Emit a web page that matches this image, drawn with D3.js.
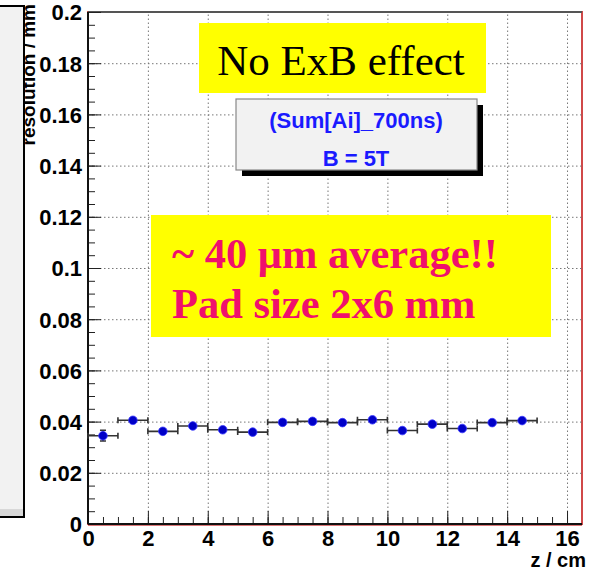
<!DOCTYPE html>
<html>
<head>
<meta charset="utf-8">
<script src="https://cdn.jsdelivr.net/npm/d3@7"></script>
<style>
  html, body { margin: 0; padding: 0; background: #fff; }
  svg { display: block; }
  .tick text { font-family: "Liberation Sans", Arial, sans-serif; font-weight: bold; font-size: 22px; fill: #000; }
</style>
</head>
<body>
<div id="chart"></div>
<script>
// z bins (cm) and measured resolution (mm)
const zCenters = [0.5, 1.5, 2.5, 3.5, 4.5, 5.5, 6.5, 7.5, 8.5, 9.5, 10.5, 11.5, 12.5, 13.5, 14.5];
const resolution = [0.0345, 0.0405, 0.0362, 0.0383, 0.0368, 0.0359, 0.0397, 0.0401, 0.0396, 0.0407, 0.0365, 0.0390, 0.0373, 0.0396, 0.0404];
const resErr = [0.0021, 0.0004, 0.0004, 0.0004, 0.0004, 0.0004, 0.0004, 0.0004, 0.0004, 0.0004, 0.0004, 0.0004, 0.0004, 0.0004, 0.0004];
const binHalf = 0.5;
const xTicks = [0, 2, 4, 6, 8, 10, 12, 14, 16];
const yTicks = [0, 0.02, 0.04, 0.06, 0.08, 0.1, 0.12, 0.14, 0.16, 0.18, 0.2];
const yTickLabels = ["0", "0.02", "0.04", "0.06", "0.08", "0.1", "0.12", "0.14", "0.16", "0.18", "0.2"];
const statsLines = ["(Sum[Ai]_700ns)", "B = 5T"];
const noteLines = ["~ 40 \u03bcm average!!", "Pad size 2x6 mm"];

const W = 593, H = 573;
const svg = d3.select("#chart").append("svg").attr("width", W).attr("height", H);

const x = d3.scaleLinear().domain([0, 16.5]).range([88, 582]);
const y = d3.scaleLinear().domain([0, 0.2]).range([524, 12]);
const [x0, x1] = x.range(), [y0, y1] = y.range();

// y title, half hidden behind the neighbouring pad
svg.append("text")
  .attr("transform", "translate(35,4) rotate(-90)")
  .attr("text-anchor", "end")
  .attr("font-family", "Liberation Sans, Arial, sans-serif")
  .attr("font-weight", "bold").attr("font-size", 19)
  .text("resolution / mm");

// neighbouring pad (left)
const pad = svg.append("g");
pad.append("rect").attr("x", -2).attr("y", 6).attr("width", 26).attr("height", 511)
  .attr("fill", "#f2f2f2").attr("stroke", "#000").attr("stroke-width", 2);
pad.append("rect").attr("x", 0).attr("y", 509).attr("width", 23).attr("height", 7).attr("fill", "#d8d8d8");

// frame
svg.append("rect").attr("x", x0).attr("y", y1).attr("width", x1 - x0).attr("height", y0 - y1)
  .attr("fill", "#fff").attr("stroke", "#d04848").attr("stroke-width", 2);

// grid
svg.append("g").attr("transform", `translate(0,${y0})`)
  .call(d3.axisBottom(x).tickValues(xTicks.filter(d => d > 0)).tickSize(-(y0 - y1)).tickFormat(""))
  .call(g => g.select(".domain").remove())
  .selectAll("line").attr("stroke", "#777").attr("stroke-dasharray", "1.5,2.5");
svg.append("g").attr("transform", `translate(${x0},0)`)
  .call(d3.axisLeft(y).tickValues(yTicks.filter(d => d > 0 && d < 0.2)).tickSize(-(x1 - x0)).tickFormat(""))
  .call(g => g.select(".domain").remove())
  .selectAll("line").attr("stroke", "#777").attr("stroke-dasharray", "1.5,2.5");

// top frame edge
svg.append("line").attr("x1", x0).attr("x2", x1).attr("y1", y1).attr("y2", y1)
  .attr("stroke", "#555").attr("stroke-width", 2);

// minor ticks
svg.append("g").attr("transform", `translate(0,${y0})`)
  .call(d3.axisBottom(x).tickValues(d3.range(0, 16.5, 0.5)).tickSize(-7).tickFormat(""))
  .call(g => g.select(".domain").remove())
  .selectAll("line").attr("stroke", "#222");
svg.append("g").attr("transform", `translate(${x0},0)`)
  .call(d3.axisLeft(y).tickValues(d3.range(0, 0.2001, 0.005)).tickSize(-7).tickFormat(""))
  .call(g => g.select(".domain").remove())
  .selectAll("line").attr("stroke", "#222");

// major ticks + labels
const xAxis = svg.append("g").attr("transform", `translate(0,${y0})`)
  .call(d3.axisBottom(x).tickValues(xTicks).tickSize(-13).tickPadding(6).tickFormat(d3.format("d")));
xAxis.select(".domain").remove();
xAxis.selectAll("line").attr("stroke", "#222");

const yAxis = svg.append("g").attr("transform", `translate(${x0},0)`)
  .call(d3.axisLeft(y).tickValues(yTicks).tickSize(-13).tickPadding(6).tickFormat((d, i) => yTickLabels[i]));
yAxis.select(".domain").remove();
yAxis.selectAll("line").attr("stroke", "#222");
yAxis.selectAll("text").attr("dy", "0.36em");

// axis lines
svg.append("line").attr("x1", x0).attr("x2", x1).attr("y1", y0 + 1).attr("y2", y0 + 1)
  .attr("stroke", "#d04848").attr("stroke-width", 1.5);
svg.append("line").attr("x1", x0).attr("x2", x1).attr("y1", y0).attr("y2", y0)
  .attr("stroke", "#111").attr("stroke-width", 2);
svg.append("line").attr("x1", x0).attr("x2", x0).attr("y1", y1).attr("y2", y0)
  .attr("stroke", "#111").attr("stroke-width", 2);

// x title
svg.append("text").attr("x", 586).attr("y", 567).attr("text-anchor", "end")
  .attr("font-family", "Liberation Sans, Arial, sans-serif")
  .attr("font-weight", "bold").attr("font-size", 20)
  .text("z / cm");

// data: error bars and markers
const pts = zCenters.map((z, i) => ({ z, v: resolution[i], e: resErr[i] }));
const eb = svg.append("g").attr("stroke", "#333").attr("stroke-width", 1.6).attr("fill", "none");
eb.selectAll("path").data(pts).join("path")
  .attr("d", d => {
    const xa = x(d.z - binHalf), xb = x(d.z + binHalf), yc = y(d.v), xc = x(d.z);
    const ya = y(d.v - d.e), yb = y(d.v + d.e);
    return `M${xa},${yc}H${xb}M${xa},${yc - 3}V${yc + 3}M${xb},${yc - 3}V${yc + 3}` +
      `M${xc},${ya}V${yb}M${xc - 3},${ya}H${xc + 3}M${xc - 3},${yb}H${xc + 3}`;
  });
svg.append("g").selectAll("circle").data(pts).join("circle")
  .attr("cx", d => x(d.z)).attr("cy", d => y(d.v)).attr("r", 4.3)
  .attr("fill", "#0000c8").attr("stroke", "#3a3aff").attr("stroke-width", 0.8);

// "No ExB effect" label
svg.append("rect").attr("x", 199).attr("y", 23).attr("width", 287).attr("height", 70).attr("fill", "#ffff00");
svg.append("text").attr("x", 341).attr("y", 75).attr("text-anchor", "middle")
  .attr("font-family", "Liberation Serif, Times New Roman, serif").attr("font-size", 43)
  .text("No ExB effect");

// stats box
svg.append("rect").attr("x", 242).attr("y", 105).attr("width", 241).attr("height", 71).attr("fill", "#000");
svg.append("rect").attr("x", 236).attr("y", 99).attr("width", 241).attr("height", 71)
  .attr("fill", "#f2f2f2").attr("stroke", "#888").attr("stroke-width", 1.2);
svg.append("g").selectAll("text").data(statsLines).join("text")
  .attr("x", 356).attr("y", (d, i) => 128 + i * 38).attr("text-anchor", "middle")
  .attr("font-family", "Liberation Sans, Arial, sans-serif").attr("font-weight", "bold")
  .attr("font-size", 22).attr("fill", "#1a1aff")
  .text(d => d);

// highlight note
svg.append("rect").attr("x", 151).attr("y", 215).attr("width", 400).attr("height", 122).attr("fill", "#ffff00");
svg.append("g").selectAll("text").data(noteLines).join("text")
  .attr("x", 172).attr("y", (d, i) => 268 + i * 50)
  .attr("font-family", "Liberation Serif, Times New Roman, serif").attr("font-weight", "bold")
  .attr("font-size", 42.5).attr("fill", "#f0106c")
  .text(d => d);
</script>
</body>
</html>
